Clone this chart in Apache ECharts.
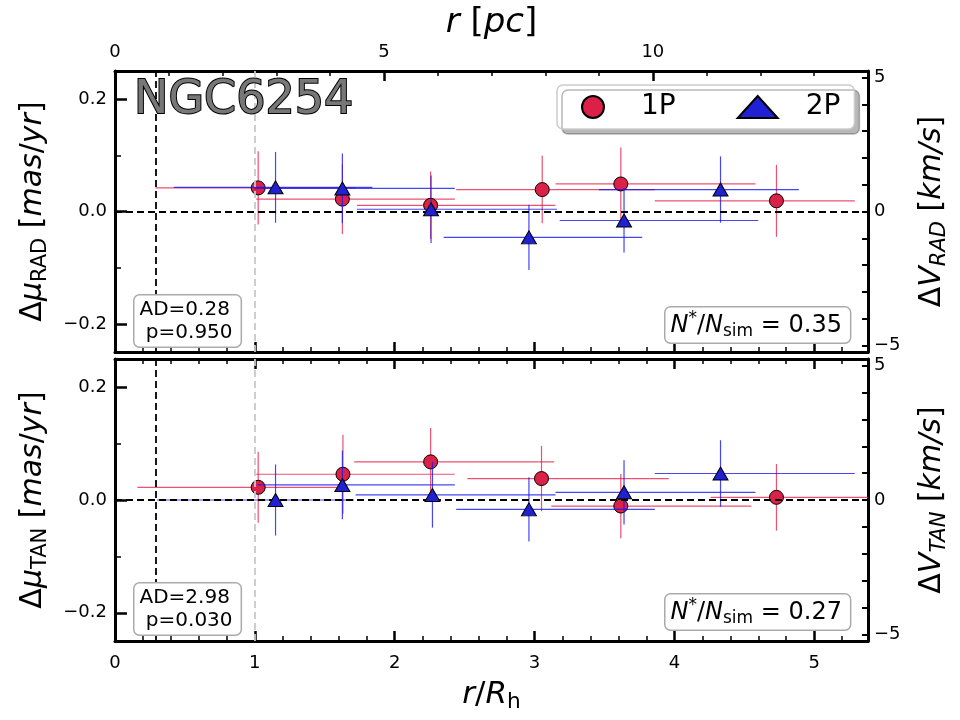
<!DOCTYPE html>
<html>
<head>
<meta charset="utf-8">
<script src="https://cdn.jsdelivr.net/npm/echarts@6.0.0/dist/echarts.min.js"></script>
<style>
html, body { margin: 0; padding: 0; background: #fff; }
#chart { width: 960px; height: 720px; }
</style>
</head>
<body>
<div id="chart"></div>
<script>
// conversions
const RH_PC = 2.6          // 1 R_h in pc
const X_MAX_PC = 14        // right edge of the plot in pc
const KMS_PER_MAS = 21.0   // km/s per mas/yr
const Y_LIM = 0.25
const R_CORE = 0.29        // black dashed vertical line (r/Rh)
const R_HALF = 1.0         // grey dashed vertical line (r/Rh)

// ---- RAD panel ----
const radX1 = [1.024, 1.626, 2.257, 3.055, 3.617, 4.73]
const radY1 = [0.042, 0.022, 0.011, 0.039, 0.049, 0.019]
const radErr1 = [0.065, 0.062, 0.06, 0.06, 0.065, 0.064]
const radLo1 = [0.29, 1.01, 1.73, 2.44, 3.15, 3.86]
const radHi1 = [1.72, 2.43, 3.15, 3.86, 4.58, 5.29]

const radX2 = [1.148, 1.626, 2.26, 2.96, 3.64, 4.33]
const radY2 = [0.043, 0.041, 0.004, -0.046, -0.016, 0.039]
const radErr2 = [0.063, 0.062, 0.06, 0.058, 0.057, 0.059]
const radLo2 = [0.42, 1.0, 1.73, 2.35, 3.18, 3.46]
const radHi2 = [1.84, 2.43, 3.16, 3.77, 4.6, 4.89]

// ---- TAN panel ----
const tanX1 = [1.024, 1.63, 2.257, 3.05, 3.617, 4.73]
const tanY1 = [0.0225, 0.0457, 0.0676, 0.038, -0.0107, 0.0047]
const tanErr1 = [0.063, 0.07, 0.06, 0.058, 0.057, 0.059]
const tanLo1 = [0.16, 1.01, 1.71, 2.52, 3.12, 4.26]
const tanHi1 = [1.63, 2.43, 3.14, 3.96, 4.55, 5.6]

const tanX2 = [1.148, 1.626, 2.27, 2.96, 3.64, 4.33]
const tanY2 = [0.0, 0.0267, 0.009, -0.0166, 0.0136, 0.047]
const tanErr2 = [0.063, 0.061, 0.058, 0.057, 0.057, 0.059]
const tanLo2 = [0.30, 1.02, 1.72, 2.44, 3.15, 3.86]
const tanHi2 = [1.71, 2.43, 3.15, 3.86, 4.58, 5.29]

const statsRad = { ad: '0.28', p: '0.950', frac: '0.35' }
const statsTan = { ad: '2.98', p: '0.030', frac: '0.27' }

const FONT = 'DejaVu Sans'
const RED = '#dc2148'
const BLUE = '#2020d4'
const RED_ERR = 'rgba(228,24,64,0.75)'
const BLUE_ERR = 'rgba(24,24,240,0.8)'

function zip(x, y, lo, hi, e) {
  return x.map((v, i) => [v, y[i], lo[i], hi[i], e[i]])
}

const minus = s => String(s).replace('-', '\u2212')

const tickLabel = { fontFamily: FONT, fontSize: 18, color: '#000' }
const axisLine = { show: true, onZero: false, lineStyle: { color: '#000', width: 3 } }

function richName(size) {
  return {
    n: { fontFamily: FONT, fontSize: size, color: '#000', lineHeight: size + 6, verticalAlign: 'middle' },
    i: { fontFamily: FONT, fontSize: size, fontStyle: 'italic', color: '#000', lineHeight: size + 6, verticalAlign: 'middle' },
    sub: { fontFamily: FONT, fontSize: size * 0.7, color: '#000', lineHeight: size * 0.7, verticalAlign: 'bottom' },
    isub: { fontFamily: FONT, fontSize: size * 0.7, fontStyle: 'italic', color: '#000', lineHeight: size * 0.7, verticalAlign: 'bottom' }
  }
}

function rhAxis(gridIndex, position, withLabels) {
  const ax = {
    type: 'value', gridIndex, position,
    min: 0, max: X_MAX_PC / RH_PC, minInterval: 1, maxInterval: 1,
    axisLine,
    axisTick: { show: true, inside: true, length: 10, lineStyle: { width: 2.5, color: '#000' } },
    minorTick: { show: true, splitNumber: 5, length: 5, lineStyle: { width: 1.5, color: '#000' } },
    axisLabel: { show: withLabels, margin: 13, showMaxLabel: false, ...tickLabel },
    splitLine: { show: false }, minorSplitLine: { show: false }
  }
  if (withLabels) {
    ax.name = '{i|r}{n|/}{i|R}{sub|h}'
    ax.nameLocation = 'middle'
    ax.nameGap = 35
    ax.nameTextStyle = { rich: richName(31) }
  }
  return ax
}

function pcAxis(gridIndex) {
  return {
    type: 'value', gridIndex, position: 'top',
    min: 0, max: X_MAX_PC, minInterval: 5, maxInterval: 5,
    axisLine,
    axisTick: { show: true, inside: true, length: 10, lineStyle: { width: 2.5, color: '#000' } },
    minorTick: { show: true, splitNumber: 5, length: 5, lineStyle: { width: 1.5, color: '#000' } },
    axisLabel: { margin: 10, showMaxLabel: false, ...tickLabel },
    splitLine: { show: false }, minorSplitLine: { show: false },
    name: '{i|r}{n| [}{i|pc}{n|]}', nameLocation: 'middle', nameGap: 28,
    nameTextStyle: { rich: richName(34) }
  }
}

function muAxis(gridIndex, comp) {
  return {
    type: 'value', gridIndex, position: 'left',
    min: -Y_LIM, max: Y_LIM, minInterval: 0.2, maxInterval: 0.2,
    axisLine,
    axisTick: { show: true, inside: true, length: 12, lineStyle: { width: 2.5, color: '#000' } },
    minorTick: { show: true, splitNumber: 2, length: 6, lineStyle: { width: 1.5, color: '#000' } },
    axisLabel: {
      margin: 8, showMinLabel: false, showMaxLabel: false, ...tickLabel,
      formatter: v => minus(v.toFixed(1))
    },
    splitLine: { show: false }, minorSplitLine: { show: false },
    name: '{n|\u0394}{i|\u03bc}{sub|' + comp + '}{n| [}{i|mas}{n|/}{i|yr}{n|]}',
    nameLocation: 'middle', nameRotate: 90, nameGap: 64,
    nameTextStyle: { rich: richName(30) }
  }
}

function kmsAxis(gridIndex, comp) {
  const lim = Y_LIM * KMS_PER_MAS
  return {
    type: 'value', gridIndex, position: 'right',
    min: -lim, max: lim, minInterval: 1, maxInterval: 1,
    axisLine,
    axisTick: { show: true, inside: true, length: 6, lineStyle: { width: 2, color: '#000' } },
    axisLabel: {
      margin: 6, showMinLabel: false, showMaxLabel: false, ...tickLabel,
      formatter: v => (Math.abs(v) === 5 || v === 0) ? minus(v) : ''
    },
    splitLine: { show: false },
    name: '{n|\u0394}{i|V}{isub|' + comp + '}{n| [}{i|km/s}{n|]}',
    nameLocation: 'middle', nameRotate: 90, nameGap: 46,
    nameTextStyle: { rich: richName(30) }
  }
}

function errRender(color) {
  return function (params, api) {
    const x = api.value(0)
    const y = api.value(1)
    const e = api.value(4)
    const a = api.coord([api.value(2), y])
    const b = api.coord([api.value(3), y])
    const c = api.coord([x, y - e])
    const d = api.coord([x, y + e])
    const style = { stroke: color, lineWidth: 1.2 }
    return {
      type: 'group',
      children: [
        { type: 'line', shape: { x1: a[0], y1: a[1], x2: b[0], y2: b[1] }, style },
        { type: 'line', shape: { x1: c[0], y1: c[1], x2: d[0], y2: d[1] }, style }
      ]
    }
  }
}

function panelSeries(idx, d1, d2) {
  const refLine = (v, color) => ({ xAxis: v, lineStyle: { color, type: [7, 4], width: 1.8 } })
  return [
    {
      name: 'ref' + idx, type: 'scatter', xAxisIndex: idx * 2, yAxisIndex: idx * 2, data: [], z: 1,
      markLine: {
        silent: true, symbol: ['none', 'none'], label: { show: false }, animation: false,
        data: [
          { yAxis: 0, lineStyle: { color: '#000', type: [7, 4], width: 1.8 } },
          refLine(R_CORE, '#000'),
          refLine(R_HALF, '#c8c8c8')
        ]
      }
    },
    {
      name: 'err1P' + idx, type: 'custom', xAxisIndex: idx * 2, yAxisIndex: idx * 2, clip: true, z: 2,
      renderItem: errRender(RED_ERR), encode: { x: 0, y: 1 }, data: d1
    },
    {
      name: '1P', type: 'scatter', xAxisIndex: idx * 2, yAxisIndex: idx * 2, z: 3,
      symbol: 'circle', symbolSize: 14,
      itemStyle: { color: RED, borderColor: '#000', borderWidth: 1, opacity: 1 },
      data: d1.map(r => [r[0], r[1]])
    },
    {
      name: 'err2P' + idx, type: 'custom', xAxisIndex: idx * 2, yAxisIndex: idx * 2, clip: true, z: 4,
      renderItem: errRender(BLUE_ERR), encode: { x: 0, y: 1 }, data: d2
    },
    {
      name: '2P', type: 'scatter', xAxisIndex: idx * 2, yAxisIndex: idx * 2, z: 5,
      symbol: 'triangle', symbolSize: [15, 13],
      itemStyle: { color: BLUE, borderColor: '#000', borderWidth: 1, opacity: 1 },
      data: d2.map(r => [r[0], r[1]])
    }
  ]
}

const boxText = { fontFamily: FONT, fill: '#000', backgroundColor: '#fff', borderColor: '#aaa', borderWidth: 1.5, borderRadius: 5 }

function adBox(top, s) {
  return {
    type: 'text', left: 133, top, z: 50,
    style: { ...boxText, text: 'AD=' + s.ad + '\n p=' + s.p, fontSize: 20, lineHeight: 23, padding: [3, 8, 2, 5] }
  }
}

function fracBox(top, s) {
  const r = {
    i: { fontFamily: FONT, fontSize: 24, fontStyle: 'italic', lineHeight: 30, verticalAlign: 'middle' },
    n: { fontFamily: FONT, fontSize: 24, lineHeight: 30, verticalAlign: 'middle' },
    sup: { fontFamily: FONT, fontSize: 17, lineHeight: 14, verticalAlign: 'top' },
    sub: { fontFamily: FONT, fontSize: 17, lineHeight: 17, verticalAlign: 'bottom' }
  }
  return {
    type: 'text', left: 664, top, z: 50,
    style: {
      ...boxText, rich: r, padding: [3, 8, 2, 5],
      text: '{i|N}{sup|*}{n|/}{i|N}{sub|sim}{n| = ' + s.frac + '}'
    }
  }
}

const chart = echarts.init(document.getElementById('chart'))

const option = {
  animation: false,
  backgroundColor: '#fff',
  grid: [
    { left: 115, top: 71, width: 753, height: 281 },
    { left: 115, top: 359, width: 753, height: 282 }
  ],
  xAxis: [
    rhAxis(0, 'bottom', false),
    pcAxis(0),
    rhAxis(1, 'bottom', true),
    rhAxis(1, 'top', false)
  ],
  yAxis: [
    muAxis(0, 'RAD'),
    kmsAxis(0, 'RAD'),
    muAxis(1, 'TAN'),
    kmsAxis(1, 'TAN')
  ],
  legend: {
    data: ['1P', '2P'], left: 557, top: 85, orient: 'horizontal',
    itemWidth: 40, itemHeight: 22, itemGap: 61,
    padding: [8, 14, 8, 24],
    backgroundColor: '#fff', borderColor: '#ccc', borderWidth: 1.5, borderRadius: 6,
    shadowColor: 'rgba(0,0,0,0.28)', shadowBlur: 0, shadowOffsetX: 5, shadowOffsetY: 5,
    textStyle: { fontFamily: FONT, fontSize: 28, color: '#000', padding: [0, 0, 0, 23] },
    selectedMode: false
  },
  graphic: [
    {
      type: 'text', left: 133, top: 77, z: 60,
      style: { text: 'NGC6254', fontFamily: FONT, fontSize: 46, fill: '#777', stroke: '#000', lineWidth: 2 }
    },
    adBox(294, statsRad),
    adBox(582, statsTan),
    fracBox(306, statsRad),
    fracBox(593, statsTan)
  ],
  series: [
    ...panelSeries(0, zip(radX1, radY1, radLo1, radHi1, radErr1), zip(radX2, radY2, radLo2, radHi2, radErr2)),
    ...panelSeries(1, zip(tanX1, tanY1, tanLo1, tanHi1, tanErr1), zip(tanX2, tanY2, tanLo2, tanHi2, tanErr2))
  ]
}

chart.setOption(option)
</script>
</body>
</html>
